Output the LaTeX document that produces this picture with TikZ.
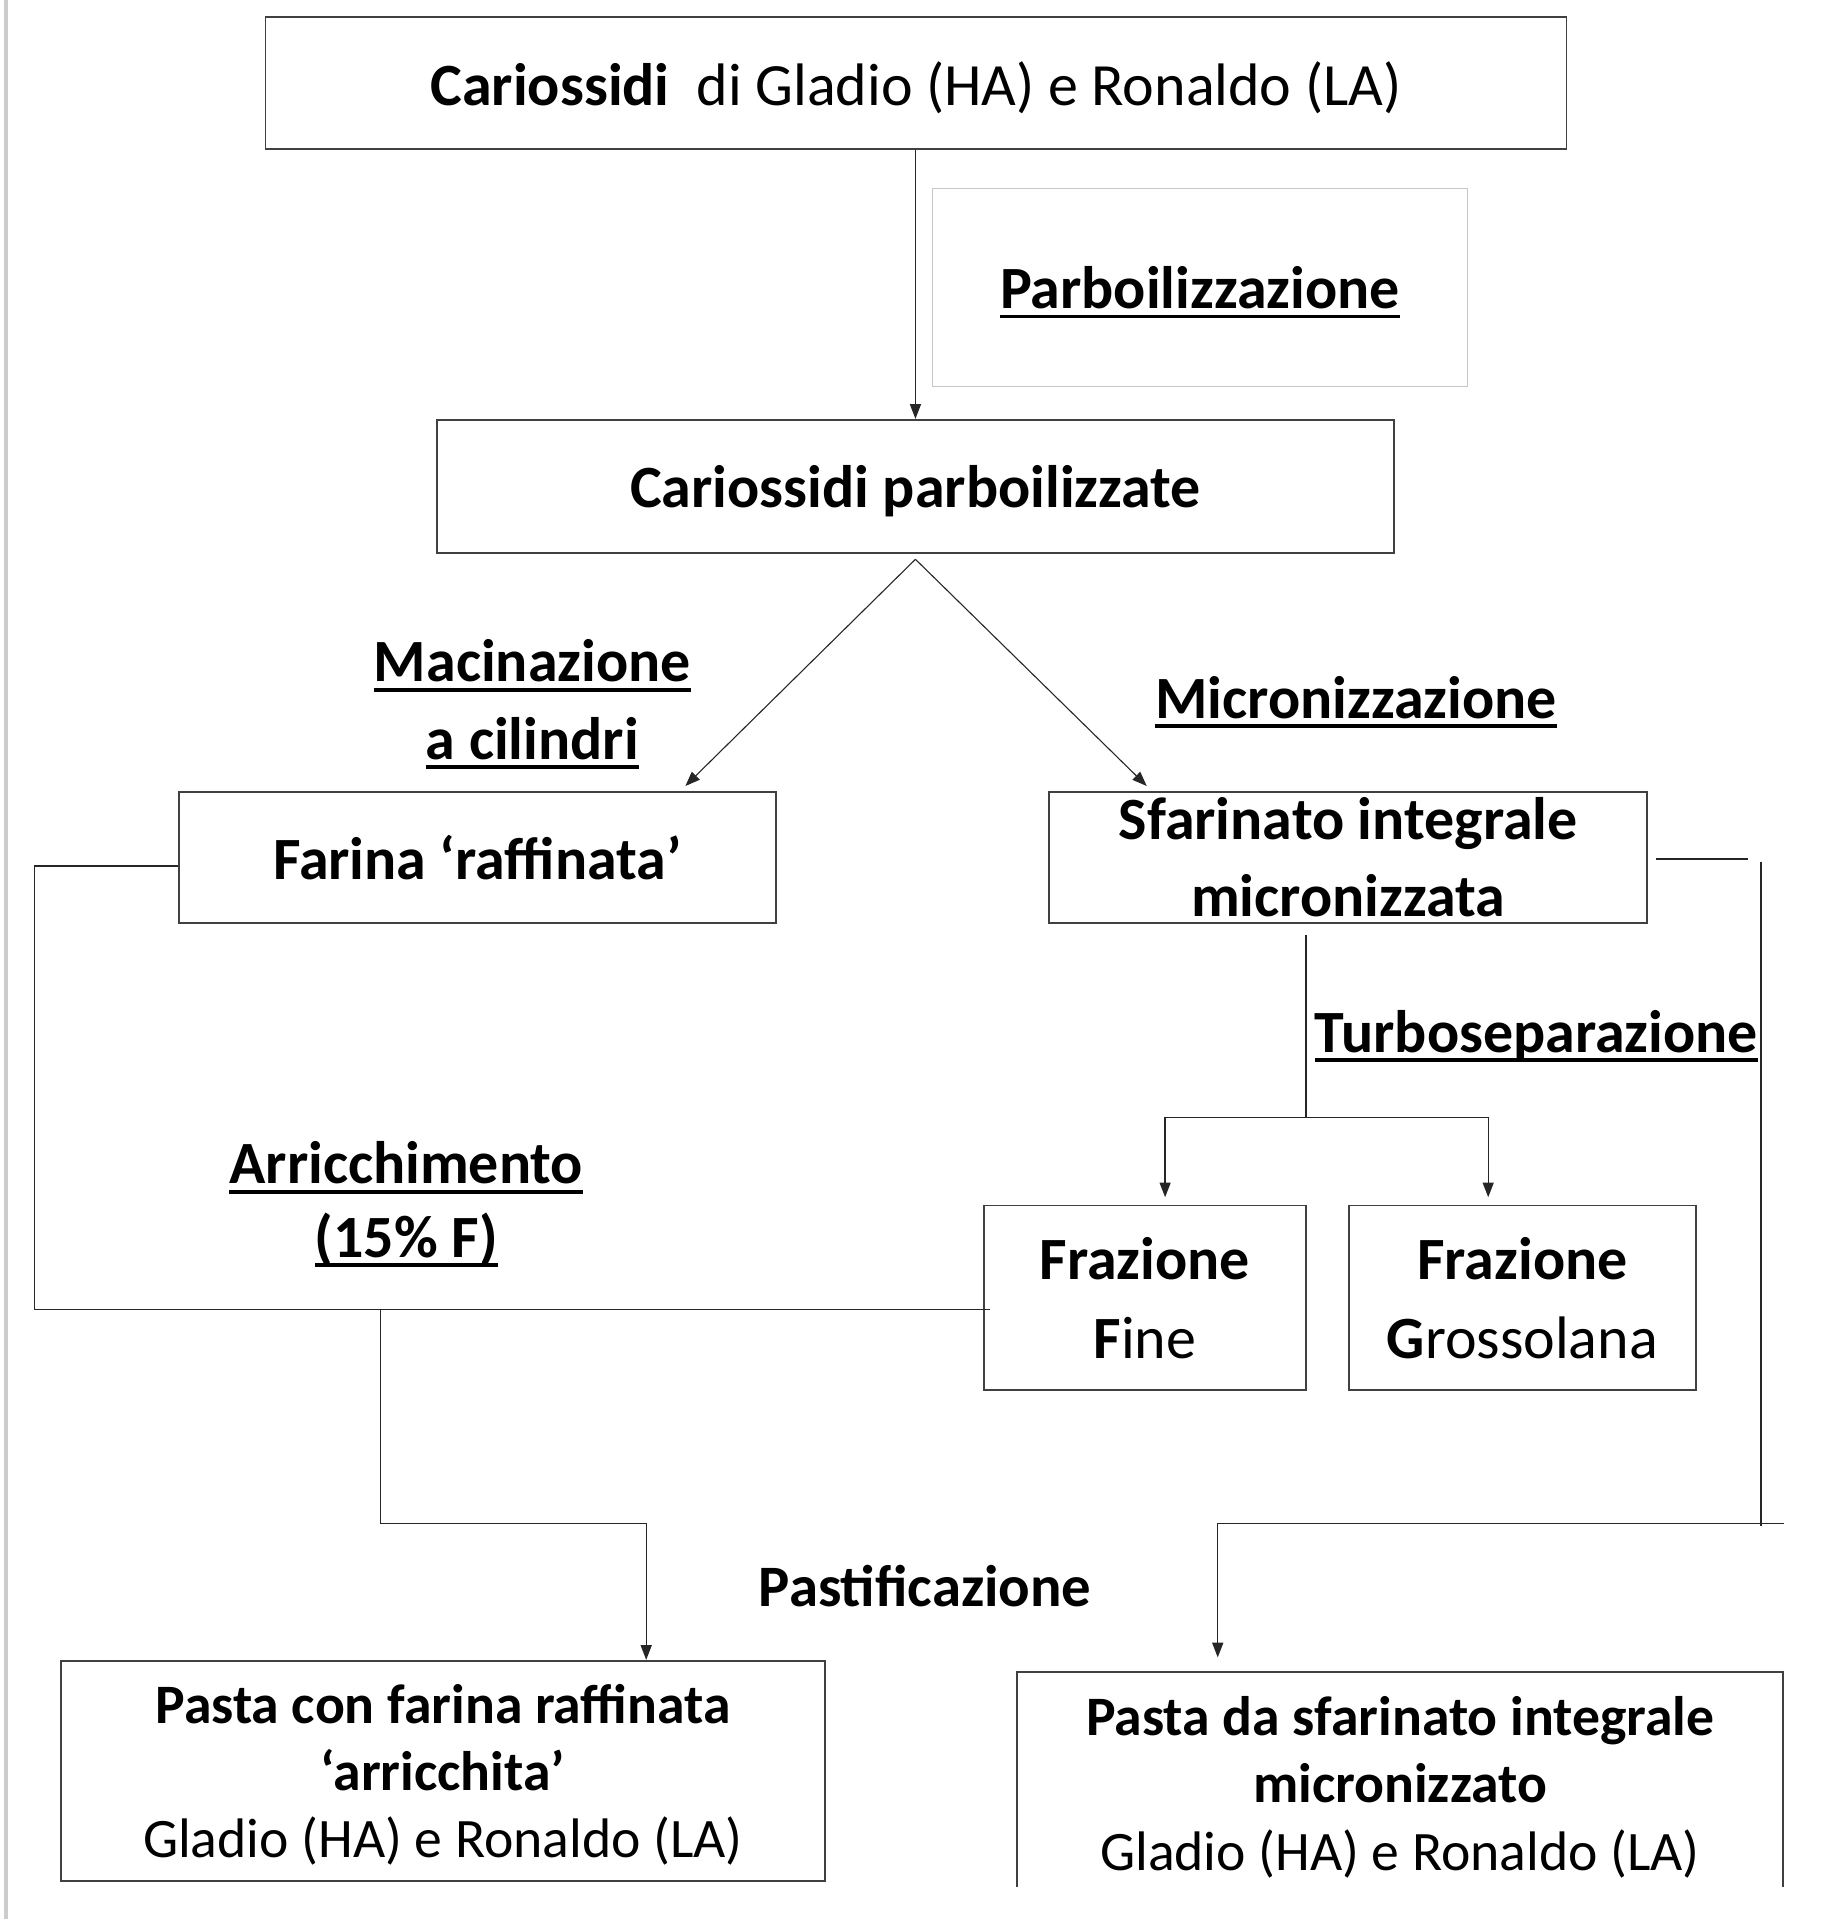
\documentclass[tikz,border=0pt]{standalone}
\usepackage{fontspec}
\setmainfont{Carlito}
\usetikzlibrary{arrows.meta}

% thick underline as in the original slide
\newcommand{\sotto}[1]{\setbox0=\hbox{#1}\leavevmode\rlap{\rule[-8pt]{\wd0}{3.2pt}}\box0}

\begin{document}
\begin{tikzpicture}[x=1pt, y=-1pt,
    box/.style={draw=black!75, line width=1.5pt, inner sep=0pt, align=center, text depth=0pt,
      font=\fontsize{49}{63}\selectfont\bfseries},
    pastabox/.style={box, font=\fontsize{45.5}{55}\selectfont\bfseries},
    lab/.style={inner sep=0pt, align=center, font=\fontsize{49}{63}\selectfont\bfseries},
    conn/.style={draw=black!85, line width=1.1pt},
    arr/.style={conn, -{Triangle[length=12pt, width=9pt]}}]

    \useasboundingbox (0,0) rectangle (1493,1568);
    \draw[black!20, line width=3pt] (5,0) -- (5,1568);

    % boxes
    \node[box, minimum width=1063pt, minimum height=108pt, font=\fontsize{49}{63}\selectfont] (cari) at (748.5,68)
        {\textbf{Cariossidi}\ \ di Gladio (HA) e Ronaldo (LA)};
    \node[box, draw=black!22, line width=1pt, minimum width=437pt, minimum height=162pt] (parb) at (980.5,235)
        {\sotto{Parboilizzazione}};
    \node[box, minimum width=782pt, minimum height=109pt] (carip) at (748,397.5) {Cariossidi parboilizzate};
    \node[box, minimum width=488pt, minimum height=107pt] (farina) at (390,700.5) {Farina ‘raffinata’};
    \node[box, minimum width=489pt, minimum height=107pt] (sfar) at (1101.5,700.5) {Sfarinato integrale\\micronizzata};
    \node[box, minimum width=263pt, minimum height=151pt, text depth=-6pt, font=\fontsize{49}{65}\selectfont\bfseries] (fine) at (935.5,1060.5)
        {Frazione\\F\mdseries ine};
    \node[box, minimum width=284pt, minimum height=151pt, text depth=-6pt, font=\fontsize{49}{65}\selectfont\bfseries] (gros) at (1244,1060.5)
        {Frazione\\G\mdseries rossolana};
    \node[pastabox, minimum width=624pt, minimum height=180pt] (pasta1) at (362,1447)
        {Pasta con farina raffinata\\‘arricchita’\\\mdseries Gladio (HA) e Ronaldo (LA)};
    \node[pastabox, draw=none, minimum width=624pt, minimum height=180pt] (pasta2) at (1144,1457)
        {Pasta da sfarinato integrale\\micronizzato\\\mdseries Gladio (HA) e Ronaldo (LA)};
    \draw[black!75, line width=1.5pt] ([yshift=6pt]pasta2.south west) -- (pasta2.north west)
        -- (pasta2.north east) -- ([yshift=6pt]pasta2.south east);

    % process labels
    \node[lab] (maci) at (435,575.5) {\sotto{Macinazione}\\\sotto{a cilindri}};
    \node[lab, anchor=base] (micro) at (1108,587) {\sotto{Micronizzazione}};
    \node[lab, anchor=base west] (turbo) at (1074,860) {\sotto{Turboseparazione}};
    \node[lab, font=\fontsize{49}{60}\selectfont\bfseries] (arric) at (332,984) {\sotto{Arricchimento}\\\sotto{(15\% F)}};
    \node[lab, anchor=base, font=\fontsize{48}{60}\selectfont\bfseries] (pastif) at (756,1313) {Pastificazione};

    % connectors
    \coordinate (split) at (748,457);
    \coordinate (lbend) at (28,1070);
    \coordinate (ljoin) at (311,1070);
    \coordinate (lstep) at (311,1245);
    \coordinate (tjoin) at (1067,913);
    \coordinate (rstub) at (1428,702);
    \coordinate (rtop) at (1439,704);
    \coordinate (rbot) at (1439,1247);
    \coordinate (rend) at (1458,1245);

    \draw[arr] (cari.south -| carip.north) -- (carip.north);
    \draw[arr, line width=0.9pt] (split) -- ([xshift=170pt, yshift=4pt]farina.north);
    \draw[arr, line width=0.9pt] (split) -- ([xshift=-164.5pt, yshift=4pt]sfar.north);

    \draw[conn] ([yshift=-7pt]farina.west) -| (lbend) -- ([xshift=6pt, yshift=-9.5pt]fine.west);
    \draw[arr] (ljoin) -- (lstep) -| ([xshift=166pt]pasta1.north);

    \draw[conn] ([xshift=-34.5pt, yshift=-9pt]sfar.south) -- (tjoin);
    \draw[arr] (tjoin) -| ([xshift=16.5pt, yshift=6pt]fine.north);
    \draw[arr] (tjoin) -| ([xshift=-28pt, yshift=6pt]gros.north);

    \draw[conn] ([xshift=6pt, yshift=-1.5pt]sfar.east) -- (rstub);
    \draw[conn] (rtop) -- (rbot);
    \draw[arr] (rend) -| ([xshift=-149pt, yshift=12pt]pasta2.north);
\end{tikzpicture}
\end{document}
